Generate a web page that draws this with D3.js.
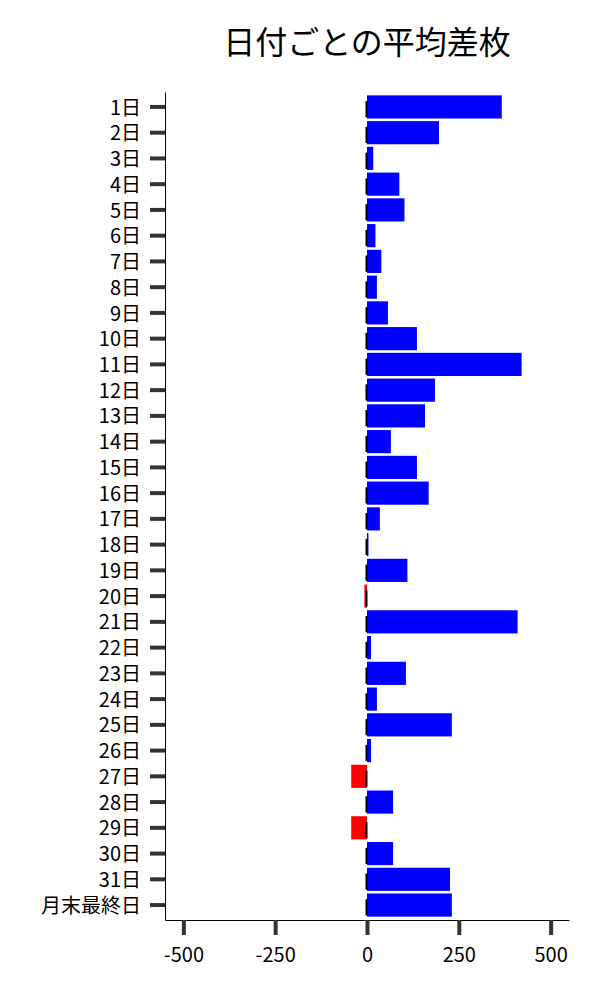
<!DOCTYPE html>
<html>
<head>
<meta charset="utf-8">
<script src="https://cdn.jsdelivr.net/npm/d3@7"></script>
<style>
  body { margin: 0; background: #fff; }
  svg { display: block; font-family: "Noto Sans CJK JP", "Noto Sans", sans-serif; }
</style>
</head>
<body>
<div id="chart"></div>
<script>
const days = [
  "1日", "2日", "3日", "4日", "5日", "6日", "7日", "8日", "9日", "10日",
  "11日", "12日", "13日", "14日", "15日", "16日", "17日", "18日", "19日", "20日",
  "21日", "22日", "23日", "24日", "25日", "26日", "27日", "28日", "29日", "30日",
  "31日", "月末最終日"
];
const avgDiff = [
  367, 196, 17, 88, 102, 23, 39, 27, 57, 136,
  421, 185, 158, 65, 136, 168, 35, 4, 110, -7,
  410, 11, 106, 27, 231, 11, -43, 71, -43, 71,
  226, 231
];
const xTicks = [-500, -250, 0, 250, 500];
const title = "日付ごとの平均差枚";

const width = 600, height = 1000;
const plot = { left: 165, right: 569, top: 92, bottom: 920 };

const data = days.map((d, i) => ({ day: d, value: avgDiff[i] }));

const svg = d3.select("#chart")
  .append("svg")
  .attr("width", width)
  .attr("height", height)
  .attr("viewBox", [0, 0, width, height]);

const xScale = d3.scaleLinear()
  .domain([-550, 550])
  .range([plot.left, plot.right]);

const yScale = d3.scaleBand()
  .domain(days)
  .range([plot.top, plot.bottom])
  .paddingInner(0.1)
  .paddingOuter(0.13);

// bars
svg.append("g")
  .selectAll("rect")
  .data(data)
  .join("rect")
  .attr("x", d => xScale(Math.min(0, d.value)))
  .attr("width", d => Math.abs(xScale(d.value) - xScale(0)))
  .attr("y", d => yScale(d.day))
  .attr("height", yScale.bandwidth())
  .attr("fill", d => d.value < 0 ? "#ff0000" : "#0000ff");

// thin dark marks at zero on each bar
svg.append("g")
  .selectAll("line")
  .data(data)
  .join("line")
  .attr("x1", xScale(0) - 0.5)
  .attr("x2", xScale(0) - 0.5)
  .attr("y1", d => yScale(d.day) + yScale.bandwidth() * 0.25)
  .attr("y2", d => yScale(d.day) + yScale.bandwidth() * 0.95)
  .attr("stroke", "#000")
  .attr("stroke-width", 2);

const yAxis = d3.axisLeft(yScale)
  .tickSize(15)
  .tickSizeOuter(0)
  .tickPadding(9);

const xAxis = d3.axisBottom(xScale)
  .tickValues(xTicks)
  .tickSize(15)
  .tickSizeOuter(0)
  .tickPadding(13)
  .tickFormat(d => String(d));

const gy = svg.append("g")
  .attr("transform", `translate(${plot.left},0)`)
  .call(yAxis);

const gx = svg.append("g")
  .attr("transform", `translate(0,${plot.bottom})`)
  .call(xAxis);

[gx, gy].forEach(g => {
  g.select(".domain").attr("stroke", "#000").attr("stroke-width", 1);
  g.selectAll(".tick line").attr("stroke", "#333").attr("stroke-width", 4);
  g.selectAll(".tick text")
    .attr("fill", "#000")
    .style("font-size", "20px")
    .style("font-family", "'Noto Sans CJK JP', sans-serif");
});
gy.selectAll(".tick text").attr("dy", "0.38em");

svg.append("text")
  .attr("x", (plot.left + plot.right) / 2)
  .attr("y", 54)
  .attr("text-anchor", "middle")
  .style("font-size", "32px")
  .attr("fill", "#000")
  .text(title);
</script>
</body>
</html>
